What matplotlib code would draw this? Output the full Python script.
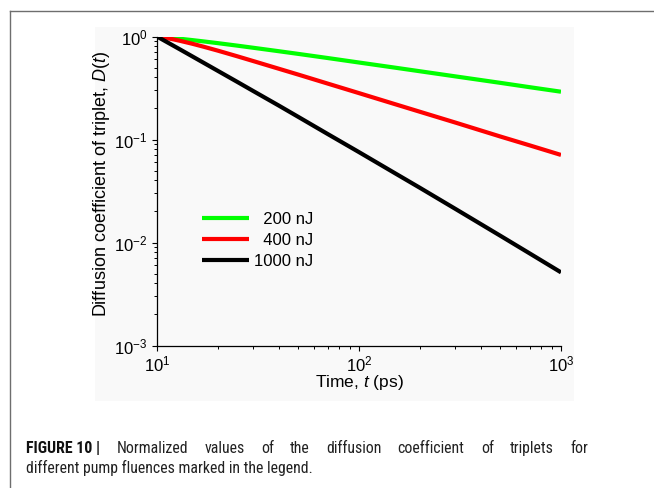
import matplotlib
matplotlib.use("Agg")
import matplotlib.pyplot as plt
import matplotlib.font_manager as fm
from matplotlib.patches import Rectangle
from matplotlib.lines import Line2D
from matplotlib.ticker import LogLocator, NullFormatter

plt.rcParams['font.family'] = ['Liberation Sans', 'DejaVu Sans']
plt.rcParams['mathtext.fontset'] = 'custom'
plt.rcParams['mathtext.rm'] = 'Liberation Sans'
plt.rcParams['mathtext.it'] = 'Liberation Sans:italic'
plt.rcParams['mathtext.default'] = 'regular'
plt.rcParams['axes.unicode_minus'] = False

# Time axis (ps) and normalized diffusion coefficient for each pump energy
time_ps = [10, 11, 12, 13, 15, 17, 20, 25, 30, 40, 50, 70, 100, 150, 200, 300, 500, 700, 1000]
d_200nJ = [1.0, 0.983, 0.966, 0.951, 0.922, 0.896, 0.862, 0.815, 0.777, 0.720, 0.678,
           0.618, 0.559, 0.499, 0.460, 0.410, 0.355, 0.322, 0.291]
d_400nJ = [1.0, 0.971, 0.940, 0.908, 0.849, 0.796, 0.729, 0.642, 0.577, 0.487, 0.427,
           0.349, 0.282, 0.221, 0.186, 0.146, 0.107, 0.0877, 0.0708]
d_1000nJ = [1.0, 0.900, 0.818, 0.749, 0.639, 0.556, 0.464, 0.362, 0.295, 0.214, 0.166,
            0.113, 0.0754, 0.0473, 0.0340, 0.0212, 0.01165, 0.00783, 0.00513]

series_labels = ['  200 nJ', '  400 nJ', '1000 nJ']
series_colors = ['#00ff00', '#ff0000', '#000000']

caption_bold = 'FIGURE 10 |'
caption_line1 = 'Normalized values of the diffusion coefficient of triplets for'
caption_line2 = 'different pump fluences marked in the legend.'


def _weight(entry):
    w = entry.weight
    if isinstance(w, str):
        w = fm.weight_dict.get(w, 400)
    return int(w)


def caption_fonts():
    """Pick a narrow sans face for the caption if one is installed."""
    prefs = ['roboto condensed', 'liberation sans narrow', 'dejavu sans',
             'open sans condensed', 'noto sans']
    narrow = [f for f in fm.fontManager.ttflist
              if f.style == 'normal' and
              ('condensed' in f.name.lower() or 'narrow' in f.name.lower() or
               f.stretch in ('condensed', 'semi-condensed', 'extra-condensed'))]
    for p in prefs:
        group = [f for f in narrow if f.name.lower().startswith(p)]
        reg = [f for f in group if _weight(f) == 400]
        bld = [f for f in group if _weight(f) == 700]
        if reg and bld:
            return (fm.FontProperties(fname=reg[0].fname),
                    fm.FontProperties(fname=bld[0].fname))
    return (fm.FontProperties(family='Liberation Sans'),
            fm.FontProperties(family='Liberation Sans', weight='bold'))


W, H = 654, 488
fig = plt.figure(figsize=(W / 100, H / 100), dpi=100)
fig.patch.set_facecolor('white')

# light panel behind the plot
fig.patches.append(Rectangle((95 / W, 1 - 401 / H), (574 - 95) / W, (401 - 27) / H,
                             transform=fig.transFigure, facecolor='#f9f9f9',
                             edgecolor='none', zorder=-5))
# page frame (top and left rules)
fx, fy = 9.5 / W, 1 - 10.5 / H
fig.lines.append(Line2D([fx, fx], [0, fy], transform=fig.transFigure,
                        color='#6e6e6e', lw=1.0))
fig.lines.append(Line2D([fx, 1], [fy, fy], transform=fig.transFigure,
                        color='#6e6e6e', lw=1.0))

ax = fig.add_axes([157 / W, 1 - 345.5 / H, 404 / W, 309 / H])
ax.set_facecolor('none')

for vals, lab, col in zip([d_200nJ, d_400nJ, d_1000nJ], series_labels, series_colors):
    ax.plot(time_ps, vals, color=col, lw=3.0, label=lab, solid_capstyle='butt')

ax.set_xscale('log')
ax.set_yscale('log')
ax.set_xlim(10, 1000)
ax.set_ylim(1e-3, 1)

ax.xaxis.set_major_locator(LogLocator(base=10, numticks=10))
ax.yaxis.set_major_locator(LogLocator(base=10, numticks=10))
ax.xaxis.set_minor_locator(LogLocator(base=10, subs=range(2, 10), numticks=20))
ax.yaxis.set_minor_locator(LogLocator(base=10, subs=range(2, 10), numticks=20))
ax.xaxis.set_minor_formatter(NullFormatter())
ax.yaxis.set_minor_formatter(NullFormatter())

for s in ['top', 'right']:
    ax.spines[s].set_visible(False)
for s in ['left', 'bottom']:
    ax.spines[s].set_linewidth(0.9)

ax.tick_params(which='major', direction='out', length=3.8, width=0.8,
               labelsize=12, pad=3)
ax.tick_params(which='minor', direction='out', length=2.2, width=0.7)

ax.set_xlabel('Time, $\\it{t}$ (ps)', fontsize=12.5, labelpad=-1)
ax.set_ylabel('Diffusion coefficient of triplet, $\\it{D}$($\\it{t}$)', fontsize=13)
ax.yaxis.set_label_coords(-0.112, 0.524)

ax.legend(loc='center left', bbox_to_anchor=(0.112, 0.34), frameon=False,
          fontsize=12, handlelength=2.8, handletextpad=0.3, labelspacing=0.36,
          borderpad=0, borderaxespad=0)

# caption below the figure; the second line sets the size, the first is justified
fig.canvas.draw()
renderer = fig.canvas.get_renderer()
fp_reg, fp_bold = caption_fonts()
x_left, x_right, x_end2 = 26.0, 588.0, 312.0
y1, y2 = 1 - 453 / H, 1 - 473 / H

probe = fig.text(x_left / W, y2, caption_line2, fontproperties=fp_reg, fontsize=10,
                 ha='left', va='baseline', color='#222222')
cap_size = 10 * (x_end2 - x_left) / probe.get_window_extent(renderer=renderer).width
probe.set_fontsize(cap_size)

words = [(caption_bold, fp_bold)] + [(w, fp_reg) for w in caption_line1.split()]
texts = []
total = 0.0
for w, fp in words:
    t = fig.text(0, y1, w, fontproperties=fp, fontsize=cap_size, ha='left',
                 va='baseline', color='#111111' if fp is fp_bold else '#222222')
    width = t.get_window_extent(renderer=renderer).width
    texts.append((t, width))
    total += width
gap = (x_right - x_left - total) / (len(words) - 1)
x = x_left
for t, width in texts:
    t.set_x(x / W)
    x += width + gap

fig.savefig('out.png', dpi=100, facecolor='white')
